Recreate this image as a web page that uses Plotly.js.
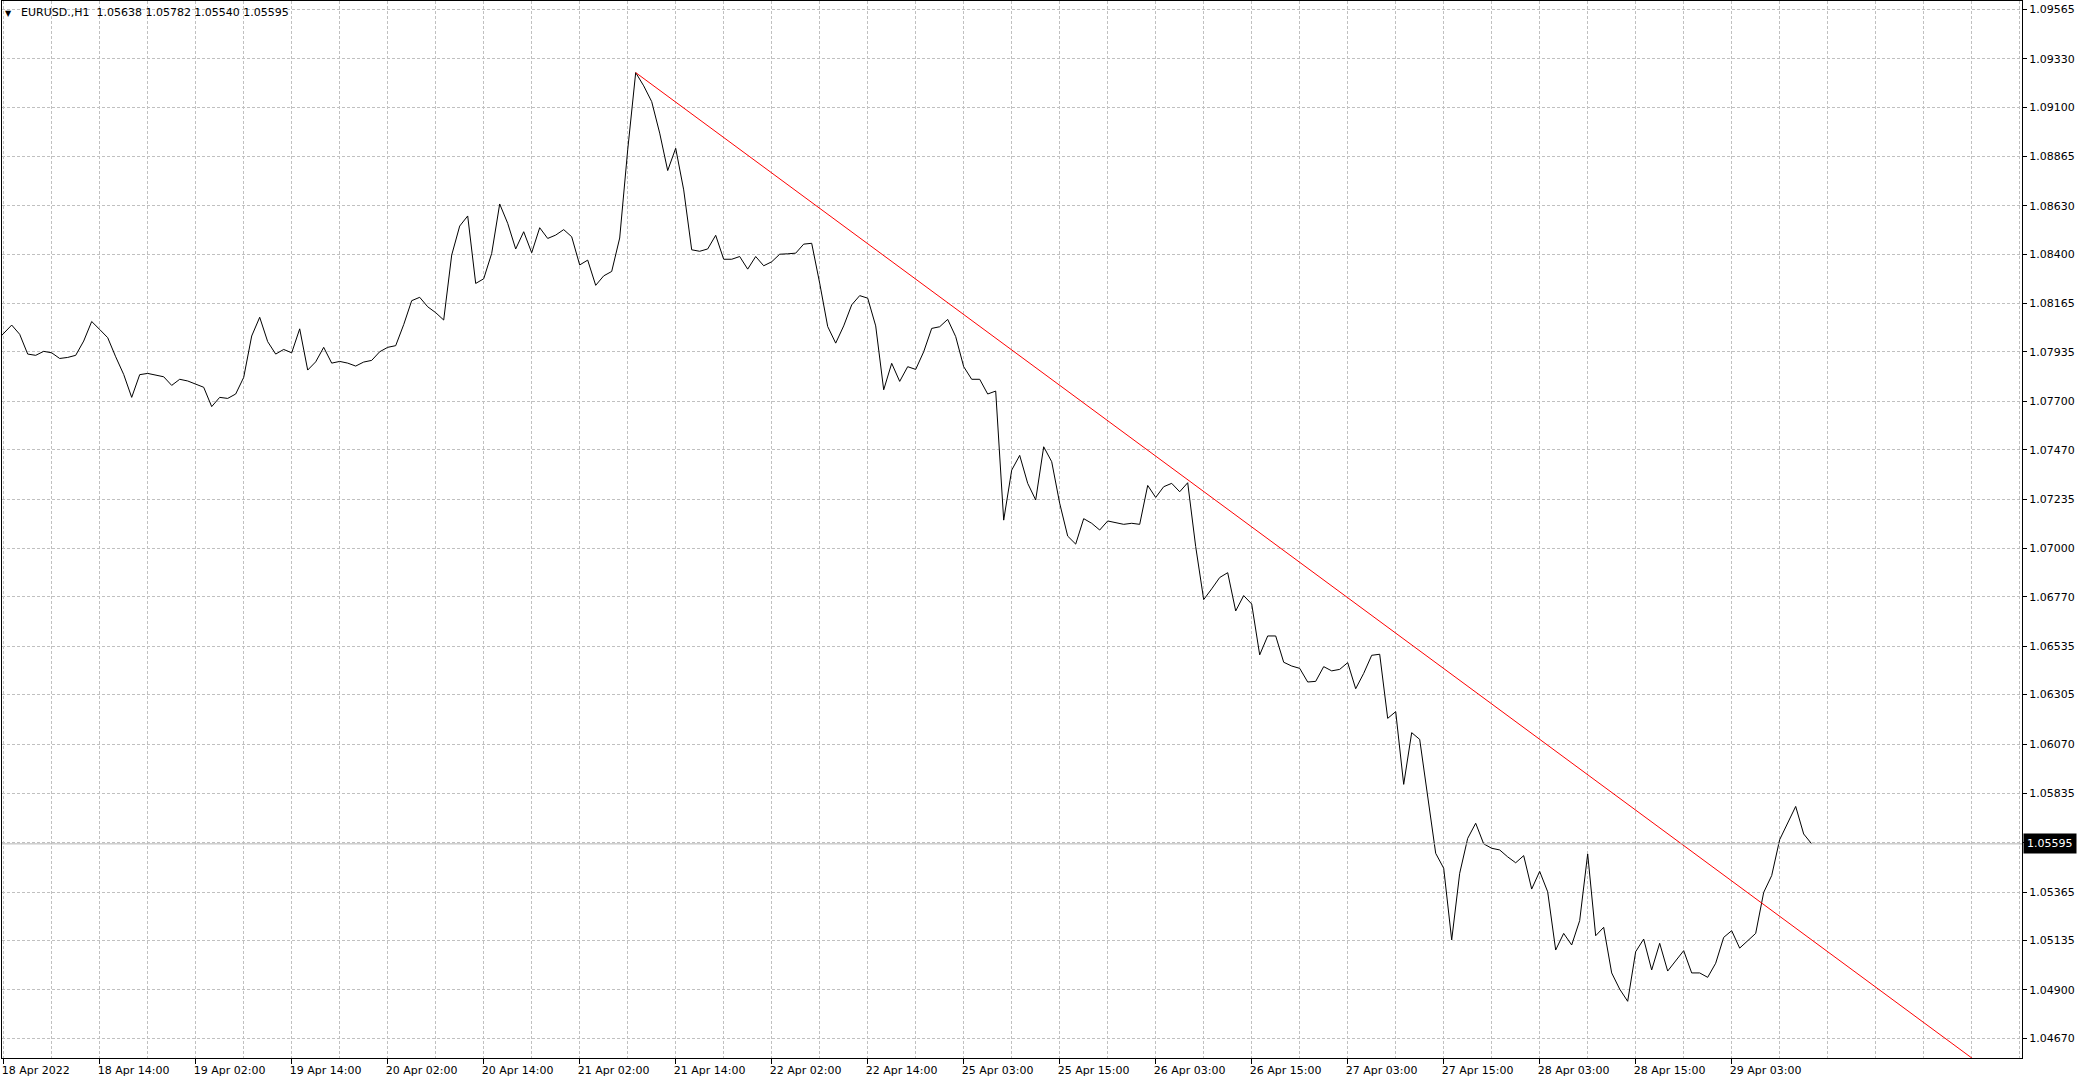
<!DOCTYPE html>
<html>
<head>
<meta charset="utf-8">
<script src="https://cdn.plot.ly/plotly-3.0.1.min.js"></script>
<style>
  html, body { margin: 0; padding: 0; background: #ffffff; }
  #chart { width: 2086px; height: 1082px; }
</style>
</head>
<body>
<div id="chart"></div>
<script>
// ---- DATA ----
const symbol = 'EURUSD.,H1';
const ohlc = [1.05638, 1.05782, 1.05540, 1.05595];

// hourly closes, first value is the bar just left of "18 Apr 2022" (bar index -1)
const closes = [
  1.07984,
  1.08023, 1.08063, 1.08019, 1.07925, 1.07919, 1.07938, 1.07931, 1.07904, 1.07909, 1.07919,
  1.07987, 1.08080, 1.08042, 1.08003, 1.07912, 1.07828, 1.07719, 1.07827, 1.07833, 1.07824,
  1.07817, 1.07776, 1.07805, 1.07797, 1.07782, 1.07767, 1.07675, 1.07719, 1.07714, 1.07735,
  1.07814, 1.08011, 1.08100, 1.07984, 1.07925, 1.07947, 1.07931, 1.08045, 1.07849, 1.07888,
  1.07957, 1.07882, 1.07890, 1.07882, 1.07868, 1.07887, 1.07895, 1.07936, 1.07957, 1.07965,
  1.08065, 1.08179, 1.08195, 1.08150, 1.08122, 1.08087, 1.08396, 1.08534, 1.08582, 1.08261,
  1.08283, 1.08404, 1.08639, 1.08547, 1.08425, 1.08507, 1.08407, 1.08526, 1.08475, 1.08491,
  1.08517, 1.08483, 1.08349, 1.08372, 1.08252, 1.08297, 1.08318, 1.08477, 1.08896, 1.09264,
  1.09201, 1.09126, 1.08976, 1.08798, 1.08904, 1.08706, 1.08421, 1.08414, 1.08425, 1.08490,
  1.08376, 1.08376, 1.08389, 1.08329, 1.08389, 1.08345, 1.08364, 1.08400, 1.08402, 1.08405,
  1.08448, 1.08452, 1.08262, 1.08056, 1.07977, 1.08059, 1.08159, 1.08203, 1.08191, 1.08059,
  1.07755, 1.07881, 1.07795, 1.07865, 1.07852, 1.07936, 1.08047, 1.08055, 1.08090, 1.08008,
  1.07865, 1.07805, 1.07805, 1.07735, 1.07749, 1.07135, 1.07373, 1.07443, 1.07310, 1.07231,
  1.07484, 1.07413, 1.07215, 1.07059, 1.07021, 1.07142, 1.07120, 1.07088, 1.07131, 1.07123,
  1.07115, 1.07120, 1.07115, 1.07300, 1.07243, 1.07294, 1.07310, 1.07270, 1.07313, 1.07009,
  1.06757, 1.06808, 1.06862, 1.06885, 1.06703, 1.06776, 1.06736, 1.06494, 1.06584, 1.06584,
  1.06459, 1.06441, 1.06430, 1.06365, 1.06368, 1.06438, 1.06418, 1.06425, 1.06457, 1.06333,
  1.06406, 1.06492, 1.06497, 1.06192, 1.06224, 1.05878, 1.06124, 1.06092, 1.05820, 1.05550,
  1.05479, 1.05138, 1.05455, 1.05621, 1.05693, 1.05595, 1.05574, 1.05566, 1.05533, 1.05505,
  1.05539, 1.05380, 1.05464, 1.05367, 1.05090, 1.05169, 1.05114, 1.05230, 1.05547, 1.05158,
  1.05198, 1.04981, 1.04904, 1.04846, 1.05082, 1.05142, 1.04995, 1.05122, 1.04990, 1.05039,
  1.05087, 1.04981, 1.04981, 1.04960, 1.05027, 1.05150, 1.05182, 1.05099, 1.05134, 1.05169,
  1.05364, 1.05444, 1.05615, 1.05697, 1.05773, 1.05642, 1.05595
];
const firstBarIndex = -1;

// time axis labels (one every 12 hourly bars)
const tickBars = [0, 12, 24, 36, 48, 60, 72, 84, 96, 108, 120, 132, 144, 156, 168, 180, 192, 204, 216];
const tickLabels = ['18 Apr 2022', '18 Apr 14:00', '19 Apr 02:00', '19 Apr 14:00', '20 Apr 02:00',
  '20 Apr 14:00', '21 Apr 02:00', '21 Apr 14:00', '22 Apr 02:00', '22 Apr 14:00', '25 Apr 03:00',
  '25 Apr 15:00', '26 Apr 03:00', '26 Apr 15:00', '27 Apr 03:00', '27 Apr 15:00', '28 Apr 03:00',
  '28 Apr 15:00', '29 Apr 03:00'];

// price scale labels
const priceTickValues = [1.09565, 1.09330, 1.09100, 1.08865, 1.08630, 1.08400, 1.08165, 1.07935,
  1.07700, 1.07470, 1.07235, 1.07000, 1.06770, 1.06535, 1.06305, 1.06070, 1.05835, 1.05600,
  1.05365, 1.05135, 1.04900, 1.04670];
const priceTickText = ['1.09565', '1.09330', '1.09100', '1.08865', '1.08630', '1.08400', '1.08165',
  '1.07935', '1.07700', '1.07470', '1.07235', '1.07000', '1.06770', '1.06535', '1.06305', '1.06070',
  '1.05835', '', '1.05365', '1.05135', '1.04900', '1.04670'];

// red trend line (ray) anchor points: bar index and price
const trendBars = [79, 300];
const trendPrices = [1.09264, 1.03061];

// ---- CHART ----
const FONT = 'DejaVu Sans, Tahoma, Verdana, sans-serif';
const GRID = '#c0c0c0';
const barIdx = closes.map((_, k) => k + firstBarIndex);
const lastClose = closes[closes.length - 1];

const traces = [
  {
    x: barIdx, y: closes, type: 'scatter', mode: 'lines',
    line: { color: '#000000', width: 1 }, hoverinfo: 'skip', showlegend: false
  },
  {
    x: trendBars, y: trendPrices, type: 'scatter', mode: 'lines',
    line: { color: '#ff0000', width: 1 }, hoverinfo: 'skip', showlegend: false
  }
];

const layout = {
  width: 2086, height: 1082,
  margin: { l: 2, r: 64, t: 1, b: 24, pad: 0 },
  paper_bgcolor: '#ffffff', plot_bgcolor: '#ffffff',
  showlegend: false,
  font: { family: FONT, size: 11, color: '#000000' },
  xaxis: {
    range: [-0.2125, 252.29], fixedrange: true,
    tickmode: 'array', tickvals: tickBars, ticktext: tickLabels,
    ticks: 'outside', ticklen: 5, tickcolor: '#000000', tickwidth: 1,
    ticklabelposition: 'outside right',
    ticklabelshift: -3, ticklabelstandoff: 2,
    tickfont: { family: FONT, size: 11, color: '#000000' },
    showgrid: true, gridcolor: GRID, griddash: '3px,2px', gridwidth: 1,
    minor: { tickmode: 'linear', tick0: 0, dtick: 6, showgrid: true, gridcolor: GRID,
             griddash: '3px,2px', gridwidth: 1, ticks: '' },
    showline: true, mirror: true, linecolor: '#000000', linewidth: 1,
    zeroline: false
  },
  yaxis: {
    side: 'right', range: [1.045763, 1.096046], fixedrange: true,
    tickmode: 'array', tickvals: priceTickValues, ticktext: priceTickText,
    ticks: 'outside', ticklen: 4, tickcolor: '#000000', tickwidth: 1,
    tickfont: { family: FONT, size: 11, color: '#000000' },
    showgrid: true, gridcolor: GRID, griddash: '3px,2px', gridwidth: 1,
    showline: true, mirror: true, linecolor: '#000000', linewidth: 1,
    zeroline: false
  },
  shapes: [
    { type: 'line', xref: 'paper', x0: 0, x1: 1, yref: 'y', y0: lastClose, y1: lastClose,
      line: { color: '#b4b4b4', width: 1 } }
  ],
  annotations: [
    { xref: 'paper', yref: 'paper', x: 0, y: 1, xanchor: 'left', yanchor: 'top',
      xshift: 1, yshift: -6, text: '▼', showarrow: false,
      font: { family: FONT, size: 8, color: '#000000' } },
    { xref: 'paper', yref: 'paper', x: 0, y: 1, xanchor: 'left', yanchor: 'top',
      xshift: 17, yshift: -3, showarrow: false,
      text: symbol + '  ' + ohlc.map(v => v.toFixed(5)).join(' '),
      font: { family: FONT, size: 11, color: '#000000' } },
    { xref: 'paper', yref: 'y', x: 1, y: lastClose, xanchor: 'left', yanchor: 'middle',
      xshift: 1, showarrow: false, text: lastClose.toFixed(5),
      bgcolor: '#000000', borderpad: 3,
      font: { family: FONT, size: 11, color: '#ffffff' } }
  ]
};

Plotly.newPlot('chart', traces, layout, { staticPlot: true, displayModeBar: false });
</script>
</body>
</html>
